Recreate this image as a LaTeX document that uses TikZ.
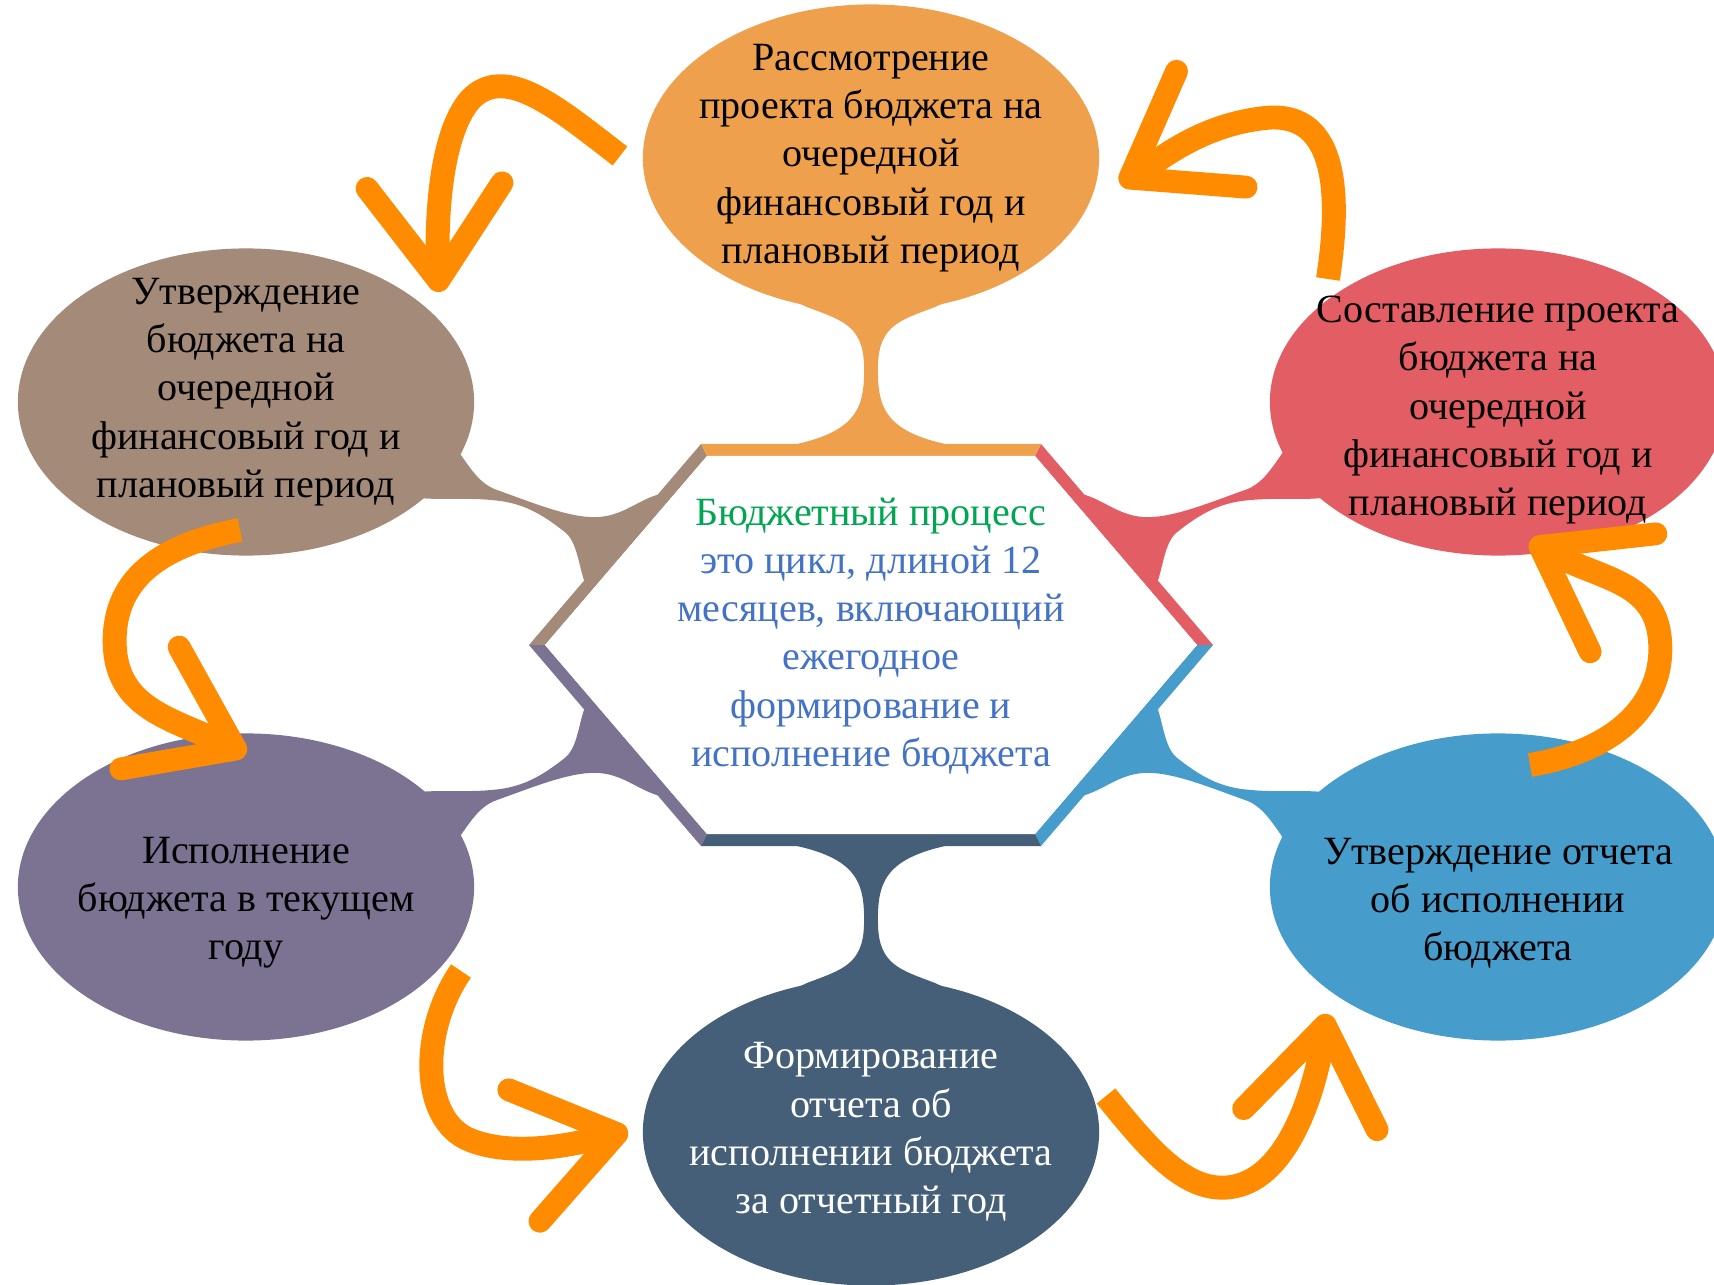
\documentclass[tikz,border=0pt]{standalone}
\usepackage{fontspec}
\setmainfont{Liberation Serif}
\usetikzlibrary{shapes.geometric,arrows.meta,calc}

\definecolor{rassmc}{RGB}{238,160,77}
\definecolor{utvc}{RGB}{163,138,121}
\definecolor{sostc}{RGB}{227,93,100}
\definecolor{ispc}{RGB}{124,114,146}
\definecolor{otchc}{RGB}{70,156,202}
\definecolor{formc}{RGB}{68,95,119}
\definecolor{strelc}{RGB}{255,140,0}
\definecolor{zelc}{RGB}{0,166,81}
\definecolor{sinc}{RGB}{68,114,196}

\begin{document}
\begin{tikzpicture}[x=0.01cm, y=-0.01cm,
  bub/.style = {ellipse, minimum width=4.56cm, minimum height=3.07cm, inner sep=0pt},
  lbl/.style = {align=center, font=\fontsize{11.4}{13.7}\selectfont},
  brush/.style = {draw=strelc, line width=6.8pt, line cap=butt,
    -{Straight Barb[length=9.5mm, width=13.5mm, line width=6.5pt, round]}}]
  \useasboundingbox[fill=white] (0,0) rectangle (1714,1285);
  % side stems and frame bands
  \foreach \sx/\sy/\col in {1/1/utvc, -1/1/sostc, 1/-1/ispc, -1/-1/otchc}{
    \begin{scope}[shift={(871,645)}, xscale=\sx, yscale=\sy]
      \fill[\col] (-421,-205) .. controls (-405,-185) and (-395,-162) .. (-374,-155)
        .. controls (-340,-143) and (-300,-126) .. (-272,-128)
        .. controls (-245,-130) and (-230,-148) .. (-206,-152) -- (-283,-55)
        .. controls (-292,-72) and (-292,-100) .. (-305,-112)
        .. controls (-330,-132) and (-350,-143) .. (-380,-145)
        .. controls (-410,-148) and (-440,-143) .. (-471,-150) -- cycle;
      \fill[\col] (-342,0) -- (-170,-201) -- (-164,-189) -- (-326,0) -- cycle;
    \end{scope}
  }
  % top and bottom stems
  \foreach \sy/\col in {1/rassmc, -1/formc}{
    \begin{scope}[shift={(871,645)}, yscale=\sy]
      \fill[\col] (-100,-355) -- (-64,-338) .. controls (-30,-325) and (-8,-320) .. (-7,-280)
        .. controls (-6,-235) and (-14,-210) .. (-95,-197) -- (95,-197)
        .. controls (14,-210) and (6,-235) .. (7,-280)
        .. controls (8,-320) and (30,-325) .. (64,-338) -- (100,-355) -- cycle;
      \fill[\col] (-170,-201) -- (170,-201) -- (164,-189) -- (-164,-189) -- cycle;
    \end{scope}
  }
  \fill[white, shift={(871,645)}] (-326,0) -- (-164,-189) -- (164,-189) -- (326,0)
    -- (164,189) -- (-164,189) -- cycle;

  \node[bub, fill=rassmc, label={[lbl]center:Рассмотрение\\проекта бюджета на\\очередной\\финансовый год и\\плановый период}] (rassm) at (871,158) {};
  \node[bub, fill=utvc, label={[lbl, yshift=0.1cm]center:Утверждение\\бюджета на\\очередной\\финансовый год и\\плановый период}] (utv) at (246,402) {};
  \node[bub, fill=sostc, label={[lbl, yshift=-0.08cm]center:Составление проекта\\бюджета на\\очередной\\финансовый год и\\плановый период}] (sost) at (1498,402) {};
  \node[bub, fill=ispc, label={[lbl, yshift=-0.16cm]center:Исполнение\\бюджета в текущем\\году}] (isp) at (246,887) {};
  \node[bub, fill=otchc, label={[lbl, yshift=-0.16cm]center:Утверждение отчета\\об исполнении\\бюджета}] (otch) at (1498,887) {};
  \node[bub, fill=formc, label={[lbl, text=white]center:Формирование\\отчета об\\исполнении бюджета\\за отчетный год}] (form) at (871,1132) {};

  \node[lbl, text=sinc] (tsentr) at (871,636) {\textcolor{zelc}{Бюджетный процесс}\\это цикл, длиной 12\\месяцев, включающий\\ежегодное\\формирование и\\исполнение бюджета};

  \draw[brush] ($(rassm)+(-251,-2)$) .. controls (560,110) and (505,62) .. (470,100)
    .. controls (440,135) and (436,220) .. ($(utv)+(193,-110)$);
  \draw[brush] ($(sost)+(-170,-123)$) .. controls (1340,200) and (1340,110) .. (1265,118)
    .. controls (1200,125) and (1160,160) .. ($(rassm)+(249,26)$);
  \draw[brush] ($(utv)+(-6,128)$) .. controls (160,545) and (110,580) .. (115,650)
    .. controls (120,710) and (175,720) .. ($(isp)+(0,-133)$);
  \draw[brush] ($(isp)+(215,84)$) .. controls (420,1030) and (420,1120) .. (470,1140)
    .. controls (520,1160) and (590,1140) .. ($(form)+(-243,-1)$);
  \draw[brush] ($(form)+(235,-36)$) .. controls (1150,1150) and (1190,1200) .. (1240,1185)
    .. controls (1290,1170) and (1315,1090) .. ($(otch)+(-171,127)$);
  \draw[brush] ($(otch)+(32,-122)$) .. controls (1620,750) and (1665,700) .. (1660,640)
    .. controls (1655,580) and (1600,580) .. ($(sost)+(32,139)$);
\end{tikzpicture}
\end{document}
